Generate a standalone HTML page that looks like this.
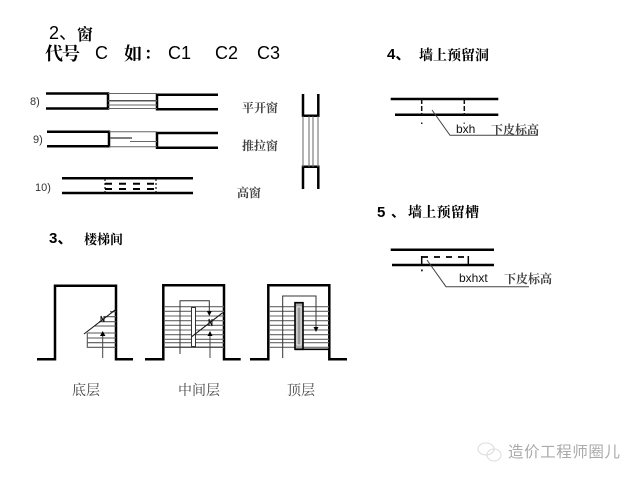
<!DOCTYPE html>
<html><head><meta charset="utf-8"><style>
html,body{margin:0;padding:0;background:#fff}
svg{display:block;filter:blur(.35px)}
.s{font-family:"Liberation Sans","Noto Sans CJK SC",sans-serif}
.c{font-family:"Liberation Serif","Noto Serif CJK SC",serif}
</style></head><body>
<svg width="640" height="480" viewBox="0 0 640 480" xmlns="http://www.w3.org/2000/svg">
<rect width="640" height="480" fill="#fff"/>
<!-- titles -->
<g fill="#000">
<text class="s" x="49" y="39" font-size="18">2、</text>
<text class="c" x="77" y="40" font-size="16" font-weight="bold">窗</text>
<text class="c" x="45" y="60" font-size="18" font-weight="bold" textLength="35">代号</text>
<text class="s" x="95" y="59" font-size="18">C</text>
<text class="c" x="124" y="60" font-size="18" font-weight="bold">如</text>
<text class="c" x="144" y="59" font-size="16" font-weight="bold">：</text>
<text class="s" x="168" y="59" font-size="18">C1</text>
<text class="s" x="215" y="59" font-size="18">C2</text>
<text class="s" x="257" y="59" font-size="18">C3</text>
<text class="s" x="49" y="243" font-size="15" font-weight="bold">3、</text>
<text class="c" x="84" y="244" font-size="13" font-weight="bold">楼梯间</text>
<text class="s" x="387" y="59" font-size="15" font-weight="bold">4、</text>
<text class="c" x="419" y="60" font-size="14" font-weight="bold" textLength="70">墙上预留洞</text>
<text class="s" x="377" y="217" font-size="15" font-weight="bold">5</text>
<text class="s" x="391" y="217" font-size="14" font-weight="bold">、</text>
<text class="c" x="408" y="217" font-size="14" font-weight="bold" textLength="71">墙上预留槽</text>
</g>
<g fill="#333" class="s" font-size="11">
<text x="30" y="105">8)</text>
<text x="33" y="143">9)</text>
<text x="35" y="191">10)</text>
</g>
<g fill="#444" class="c" font-size="12" font-weight="bold">
<text x="242" y="112">平开窗</text>
<text x="242" y="150">推拉窗</text>
<text x="237" y="197">高窗</text>
<text x="72" y="395" font-size="14" font-weight="normal">底层</text>
<text x="178" y="395" font-size="14" font-weight="normal">中间层</text>
<text x="287" y="395" font-size="14" font-weight="normal">顶层</text>
<text x="491" y="134" font-size="12">下皮标高</text>
<text x="504" y="283" font-size="12">下皮标高</text>
</g>
<text class="s" x="456" y="133" font-size="12" fill="#111">bxh</text>
<text class="s" x="459" y="282" font-size="12" fill="#111">bxhxt</text>
<!-- windows -->
<g fill="none" stroke="#000" stroke-width="2.500">
<path d="M46 93.500H108V108.500H46M218 94.700H157V109.300H218"/>
<path d="M47 131.700H109V146.300H47M218 133H157V147.700H218"/>
<path d="M62 178.300H193M62 193H193"/>
<path d="M303 94V115.700H318.300V94M303 189V166.700H318.300V189"/>
</g>
<g fill="none" stroke="#666" stroke-width="1">
<path d="M108 93.500H157M108 108.500H157M108 105H157"/>
<path d="M109 131.700H157M109 146.700H157M130 141.500H157"/>
<path d="M303 116V167M318 116V167M309 116V167M313 116V167"/>
</g>
<path d="M108 100.700H157M110 138H132" stroke="#555" stroke-width="1.500" fill="none"/>
<!-- window 10 -->
<path d="M105 183.700H156M105 189H156" stroke="#000" stroke-width="2" stroke-dasharray="7 7" fill="none"/>
<path d="M105 179V193M156 179V193" stroke="#111" stroke-width="1.200" stroke-dasharray="2 2" fill="none"/>
<!-- stair 1 -->
<path d="M37 359.300H55V285.700H116V359.300H133" fill="none" stroke="#000" stroke-width="2.500"/>
<path d="M87.300 333V347.300H116M87.300 342.700H116M87.300 338H116M87.300 333H116M94 326H116M99 321.700H116M104 316.700H116M110 311.700H116" fill="none" stroke="#555" stroke-width="1.100"/>
<path d="M84 334L116 309.300M101 322V316L104 322V316" fill="none" stroke="#111"/>
<path d="M102.700 358V333" stroke="#444"/>
<path d="M102.700 331L100 336H105.400z" fill="#000"/>
<!-- stair 2 -->
<path d="M145 359.300H163.300V285.300H224V359.300H240.700" fill="none" stroke="#000" stroke-width="2.500"/>
<path d="M164 306.700H224M164 311.300H224M164 316H224M164 320.700H224M164 325.300H224M164 330H224M164 334.700H224M164 339.300H224M164 342.700H224" fill="none" stroke="#666" stroke-width="1.100"/>
<path d="M164 347.300H224" stroke="#555" stroke-width="1.500"/>
<rect x="191.500" y="307.500" width="4" height="39" fill="#fff" stroke="#333" stroke-width="1"/>
<path d="M180 354V300.700H209.300V313" fill="none" stroke="#333"/>
<path d="M209.300 316L206.800 311H211.800z" fill="#000"/>
<path d="M210 358V333" stroke="#444"/>
<path d="M210 331L207.500 336H212.500z" fill="#000"/>
<path d="M191.700 336.700L222.700 312.700M209 326V319L212 326V319" fill="none" stroke="#111"/>
<!-- stair 3 -->
<path d="M250 359.300H268.300V285.300H329.300V359.300H347" fill="none" stroke="#000" stroke-width="2.500"/>
<path d="M269 306.700H329M269 311.300H329M269 316H329M269 320.700H329M269 325.300H329M269 330H329M269 334.700H329M269 339.300H329M269 342.700H329M269 347.300H329" fill="none" stroke="#666" stroke-width="1.100"/>
<rect x="295" y="302.700" width="8" height="46.600" fill="#aaa" stroke="#000" stroke-width="1.600"/>
<rect x="297" y="307" width="4" height="38" fill="#999" stroke="#fff" stroke-width=".8"/>
<path d="M295 349.300H329" stroke="#000" stroke-width="1.600"/>
<path d="M282.700 358V296H316V329" fill="none" stroke="#333"/>
<path d="M316 332L313.500 327H318.500z" fill="#000"/>
<!-- section 4 -->
<path d="M390.700 99H498.300M395 114.700H498.300" stroke="#000" stroke-width="2.500"/>
<path d="M421.700 99V115M464.300 99V115" stroke="#111" stroke-width="1.500" stroke-dasharray="5 2"/>
<rect x="421" y="122.500" width="1.500" height="1.500" fill="#222"/>
<rect x="463.500" y="122.500" width="1.500" height="1.500" fill="#666"/>
<path d="M432 110L450 135.300H538" fill="none" stroke="#444"/>
<!-- section 5 -->
<path d="M390.700 249.700H494M392 265H494" stroke="#000" stroke-width="2.500"/>
<path d="M422 257H468" stroke="#000" stroke-width="1.800" stroke-dasharray="6 6"/>
<path d="M421.700 256V265M468.300 256V265" stroke="#000" stroke-width="1.500"/>
<rect x="421" y="269.500" width="1.800" height="1.800" fill="#222"/>
<path d="M427 260L446 286.700H529" fill="none" stroke="#444"/>
<!-- watermark -->
<g fill="none" stroke="#ddd" stroke-width="1.100">
<ellipse cx="486" cy="449" rx="8" ry="6"/>
<ellipse cx="494" cy="455" rx="7" ry="6"/>
</g>
<text class="s" x="508" y="457" font-size="15.500" fill="#aaa" textLength="112">造价工程师圈儿</text>
</svg>
</body></html>
